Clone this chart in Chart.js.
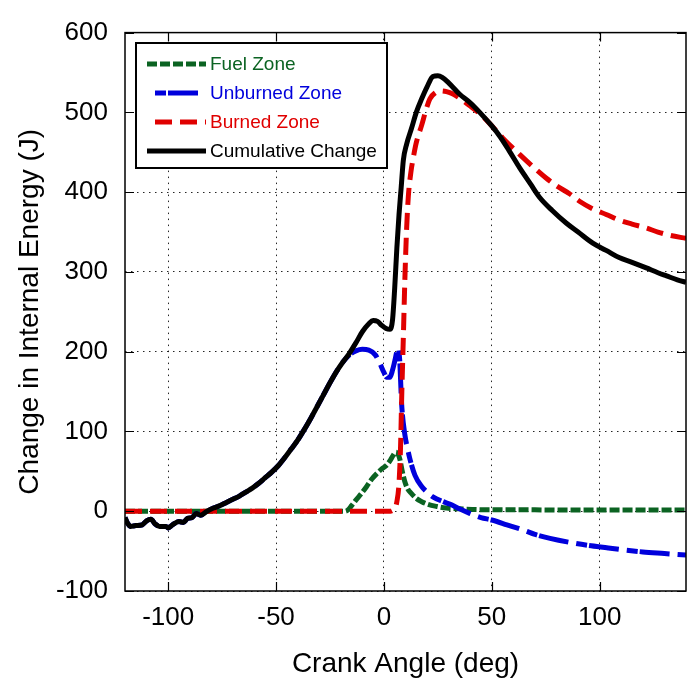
<!DOCTYPE html>
<html>
<head>
<meta charset="utf-8">
<title>Change in Internal Energy</title>
<script src="https://cdn.jsdelivr.net/npm/chart.js@4.4.1/dist/chart.umd.min.js"></script>
<style>
    html, body { margin: 0; padding: 0; background: #fff; }
    canvas { display: block; }
</style>
</head>
<body>
<canvas id="energy-chart" width="687" height="681"></canvas>
<script>
// Fuel zone (deg, J)
const fuelAngle = [-120, -60, -18, -16.5, -15, -13, -10.5, -8, -5.7, -3, -1, 1, 3, 4.3, 5.5, 6.5, 7.4, 8.5, 9.7, 11, 12.8, 15, 17.5, 20, 24.4, 29, 35, 45, 60, 80, 110, 140];
const fuelEnergy = [0, 0, 0, 2, 7, 14, 22, 31, 40, 48, 53, 57, 64, 70, 74, 72, 65, 50, 37, 28, 22, 16, 12, 9, 6, 4, 3, 2, 2, 1.5, 1.5, 1.5];

// Unburned zone
const unburnedAngle = [-120, -119, -117.5, -115, -112, -110, -108, -106, -104, -101, -100, -98, -95, -93, -91, -89, -87, -85, -82, -79, -76, -73, -70, -67, -64, -61, -58, -55, -52, -49, -46, -43, -40, -37, -34, -31, -28, -25, -22, -19, -16, -13, -10, -7, -4, -2, 0, 1.2, 2.8, 4, 5.1, 6.6, 7.3, 8.2, 9.7, 11, 12, 14.4, 17.5, 20, 22.7, 27.5, 30.5, 35, 40, 45, 50, 57, 65, 70, 77, 88, 95, 104, 111, 120, 130, 140];
const unburnedEnergy = [-8, -14, -19, -18, -17, -12, -10, -16, -19, -19, -21, -17, -13, -14, -9, -8, -3, -5, 0, 4, 7, 11, 15, 19, 24, 29, 35, 42, 49, 57, 67, 78, 89, 102, 116, 131, 146, 161, 175, 187, 196, 201, 203, 202, 196, 186, 174, 168, 168, 177, 189, 205, 190, 135, 96, 78, 66, 45, 31, 24, 18, 12, 9, 3, -3, -8, -11, -17, -24, -29, -34, -40, -43, -46, -48.5, -51, -53, -55];

// Burned zone
const burnedAngle = [-120, -60, 0, 3, 4, 5, 6, 7, 7.7, 8.3, 9, 9.7, 10.5, 11.3, 12.5, 13.6, 15, 17.5, 19.5, 21.3, 24, 26, 29, 32, 36, 40, 45, 49, 55, 63, 69, 75, 80, 86, 91, 96.8, 103, 109, 115, 121.6, 127, 132.4, 140];
const burnedEnergy = [0, 0, 0, 0, 1, 3, 12, 35, 80, 150, 218, 290, 353, 394, 425, 443, 462, 484, 503, 517, 525, 527, 526, 523, 516, 508, 497, 486, 468, 447, 432, 418, 408, 398, 388, 379, 372, 365, 360, 355, 350, 346, 342];

// Cumulative change
const cumulativeAngle = [-120, -119, -117.5, -115, -112, -110, -108, -106, -104, -101, -100, -98, -95, -93, -91, -89, -87, -85, -82, -79, -76, -73, -70, -67, -64, -61, -58, -55, -52, -49, -46, -43, -40, -37, -34, -31, -28, -25, -22, -19, -16, -13, -10, -7, -5, -3, -1, 1, 2.8, 4, 5, 6, 7, 8, 9, 10.5, 12.8, 15, 17.5, 20, 22.7, 25, 27, 30, 35, 40, 44.4, 50, 53.7, 58, 63, 68, 72, 78, 84.6, 90, 96.8, 103, 109, 115, 121.6, 127, 131, 136, 140];
const cumulativeEnergy = [-8, -14, -19, -18, -17, -12, -10, -16, -19, -19, -21, -17, -13, -14, -9, -8, -3, -5, 0, 4, 7, 11, 15, 19, 24, 29, 35, 42, 49, 57, 67, 78, 89, 102, 116, 131, 146, 161, 175, 187, 198, 211, 225, 235, 239, 238, 233, 229, 228, 240, 280, 330, 372, 406, 440, 460, 480, 500, 517, 532, 545, 546, 544, 537, 523, 512, 500, 483, 470, 452, 430, 410, 394, 377, 361, 350, 336, 327, 318, 312, 305, 299, 295, 290, 287];

const xTicks = [-100, -50, 0, 50, 100];
const yTicks = [-100, 0, 100, 200, 300, 400, 500, 600];

const FONT = "'Liberation Sans', Arial, Helvetica, sans-serif";
const TICK_LEN = 9;

function toPoints(angles, values) {
    return angles.map((a, i) => ({ x: a, y: values[i] }));
}

function makeSeries(label, angles, values, color, dash, order) {
    return {
        label,
        data: toPoints(angles, values),
        borderColor: color,
        backgroundColor: color,
        borderWidth: 5,
        borderDash: dash,
        pointRadius: 0,
        fill: false,
        cubicInterpolationMode: 'monotone',
        order,
    };
}

// frame round the plot with short inward ticks on every side
const frameTicks = {
    id: 'frameTicks',
    afterDatasetsDraw(chart) {
        const { ctx, chartArea: a, scales: { x, y } } = chart;
        ctx.save();
        ctx.setLineDash([]);
        ctx.strokeStyle = '#000';
        ctx.lineWidth = 1.2;
        ctx.beginPath();
        xTicks.forEach((v) => {
            const px = Math.round(x.getPixelForValue(v)) + 0.5;
            ctx.moveTo(px, a.bottom);
            ctx.lineTo(px, a.bottom - TICK_LEN);
            ctx.moveTo(px, a.top);
            ctx.lineTo(px, a.top + TICK_LEN);
        });
        yTicks.forEach((v) => {
            const py = Math.round(y.getPixelForValue(v)) + 0.5;
            ctx.moveTo(a.left, py);
            ctx.lineTo(a.left + TICK_LEN, py);
            ctx.moveTo(a.right, py);
            ctx.lineTo(a.right - TICK_LEN, py);
        });
        ctx.stroke();
        ctx.lineWidth = 1.5;
        ctx.strokeRect(a.left, a.top, a.right - a.left, a.bottom - a.top);
        ctx.restore();
    },
};

// boxed key in the upper left corner, text coloured like its line
const boxedKey = {
    id: 'boxedKey',
    afterDraw(chart) {
        const ctx = chart.ctx;
        const box = { left: 136, top: 43, right: 387, bottom: 168 };
        const rows = [64, 93, 122, 151];
        const dashOffsets = [0, 43, 17, 0];

        ctx.save();
        ctx.fillStyle = '#fff';
        ctx.fillRect(box.left, box.top, box.right - box.left, box.bottom - box.top);
        ctx.strokeStyle = '#000';
        ctx.lineWidth = 2;
        ctx.setLineDash([]);
        ctx.strokeRect(box.left, box.top, box.right - box.left, box.bottom - box.top);

        ctx.font = '19px ' + FONT;
        ctx.textBaseline = 'middle';
        ctx.textAlign = 'left';

        chart.data.datasets.forEach((ds, i) => {
            const yRow = rows[i];
            ctx.strokeStyle = ds.borderColor;
            ctx.lineWidth = ds.borderWidth;
            ctx.setLineDash(ds.borderDash || []);
            ctx.lineDashOffset = dashOffsets[i];
            ctx.beginPath();
            ctx.moveTo(147, yRow);
            ctx.lineTo(206, yRow);
            ctx.stroke();

            ctx.fillStyle = ds.borderColor;
            ctx.fillText(ds.label, 210, yRow + 1);
        });
        ctx.restore();
    },
};

function initEnergyChart() {
    const canvas = document.getElementById('energy-chart');
    if (!canvas || typeof Chart === 'undefined') return;

    const gridStyle = {
        color: 'rgba(0, 0, 0, 0.85)',
        lineWidth: 1,
        drawTicks: false,
    };
    const gridBorder = { display: false, dash: [1.5, 4.5] };

    new Chart(canvas.getContext('2d'), {
        type: 'line',
        data: {
            datasets: [
                makeSeries('Fuel Zone', fuelAngle, fuelEnergy, '#0b6322', [10, 3], 4),
                makeSeries('Unburned Zone', unburnedAngle, unburnedEnergy, '#0000dc', [11, 2, 30, 8], 3),
                makeSeries('Burned Zone', burnedAngle, burnedEnergy, '#e00000', [17, 8], 2),
                makeSeries('Cumulative Change', cumulativeAngle, cumulativeEnergy, '#000000', [], 1),
            ],
        },
        options: {
            responsive: false,
            animation: false,
            layout: { padding: { top: 22, right: 1, left: 0, bottom: 0 } },
            plugins: {
                legend: { display: false },
                tooltip: { enabled: false },
            },
            scales: {
                x: {
                    type: 'linear',
                    min: -120,
                    max: 140,
                    grid: gridStyle,
                    border: gridBorder,
                    afterFit: (scale) => { scale.height = 90; },
                    afterBuildTicks: (scale) => {
                        scale.ticks = xTicks.map((v) => ({ value: v }));
                    },
                    ticks: {
                        color: '#000',
                        padding: 11,
                        maxRotation: 0,
                        font: { family: FONT, size: 26 },
                    },
                    title: {
                        display: true,
                        text: 'Crank Angle (deg)',
                        color: '#000',
                        font: { family: FONT, size: 28 },
                        padding: { top: 2, bottom: 0 },
                    },
                },
                y: {
                    type: 'linear',
                    min: -100,
                    max: 600,
                    grid: gridStyle,
                    border: gridBorder,
                    afterFit: (scale) => { scale.width = 125; },
                    afterBuildTicks: (scale) => {
                        scale.ticks = yTicks.map((v) => ({ value: v }));
                    },
                    ticks: {
                        color: '#000',
                        padding: 17,
                        font: { family: FONT, size: 26 },
                    },
                    title: {
                        display: true,
                        text: 'Change in Internal Energy (J)',
                        color: '#000',
                        font: { family: FONT, size: 28 },
                        padding: { top: 13, bottom: 0 },
                    },
                },
            },
        },
        plugins: [frameTicks, boxedKey],
    });
}

document.addEventListener('DOMContentLoaded', initEnergyChart);
</script>
</body>
</html>
